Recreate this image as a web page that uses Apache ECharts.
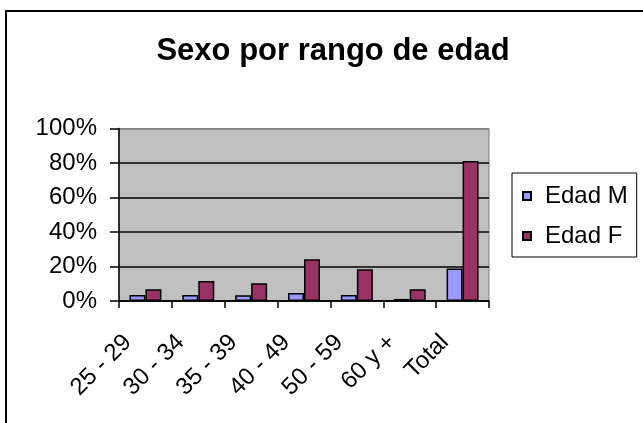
<!DOCTYPE html>
<html>
<head>
<meta charset="utf-8">
<script src="https://cdn.jsdelivr.net/npm/echarts@6/dist/echarts.min.js"></script>
<style>
html,body{margin:0;padding:0;background:#fff;}
#chart{width:643px;height:423px;}
</style>
</head>
<body>
<div id="chart"></div>
<script>
var categories = ['25 - 29', '30 - 34', '35 - 39', '40 - 49', '50 - 59', '60 y +', 'Total'];
var edadM = [3.5, 3.5, 3.4, 4.6, 3.5, 1.2, 18.8];
var edadF = [6.8, 11.6, 10.3, 24.2, 18.4, 6.8, 81.2];
var seriesNames = ['Edad M', 'Edad F'];
var titleText = 'Sexo por rango de edad';

var FONT = "'Liberation Sans', Arial, sans-serif";
var chart = echarts.init(document.getElementById('chart'), null, {renderer: 'canvas'});
chart.setOption({
  animation: false,
  backgroundColor: '#ffffff',
  title: {
    text: titleText,
    left: 328,
    textAlign: 'center',
    top: 31,
    textStyle: {fontFamily: FONT, fontSize: 31, fontWeight: 'bold', color: '#000'}
  },
  graphic: [{
    type: 'rect',
    shape: {x: 6, y: 11, width: 700, height: 500},
    style: {fill: 'none', stroke: '#000', lineWidth: 2},
    silent: true
  }],
  legend: {
    orient: 'vertical',
    left: 512,
    top: 173,
    padding: [11, 9, 9, 10],
    itemGap: 16,
    itemWidth: 8,
    itemHeight: 8,
    icon: 'rect',
    borderColor: '#000',
    borderWidth: 1,
    backgroundColor: '#fff',
    textStyle: {fontFamily: FONT, fontSize: 24, color: '#000', padding: [0, 0, 0, 9]},
    data: seriesNames
  },
  grid: {
    left: 119, right: 154, top: 128.5, bottom: 122,
    show: true,
    backgroundColor: '#C0C0C0',
    borderColor: '#808080',
    borderWidth: 1,
    containLabel: false
  },
  xAxis: {
    type: 'category',
    data: categories,
    boundaryGap: true,
    axisLine: {show: true, lineStyle: {color: '#000', width: 1.5}},
    axisTick: {show: true, length: 7, lineStyle: {color: '#000', width: 1.5}},
    axisLabel: {rotate: 45, margin: 20, fontFamily: FONT, fontSize: 24, color: '#000', interval: 0, padding: [0, 25, 0, 0]}
  },
  yAxis: {
    type: 'value',
    min: 0, max: 100, interval: 20,
    axisLine: {show: true, lineStyle: {color: '#000', width: 1.5}},
    axisTick: {show: true, length: 9, lineStyle: {color: '#000', width: 1.5}},
    axisLabel: {formatter: '{value}%', margin: 22, fontFamily: FONT, fontSize: 24, color: '#000'},
    splitLine: {show: true, lineStyle: {color: ['#000', '#000', '#000', '#000', '#000', '#808080'], width: 1.5}}
  },
  series: [{
    name: seriesNames[0],
    type: 'bar',
    data: edadM,
    barWidth: 16,
    barGap: '0%',
    itemStyle: {color: '#9999FF', borderColor: '#000', borderWidth: 1.5}
  }, {
    name: seriesNames[1],
    type: 'bar',
    data: edadF,
    barWidth: 16,
    barGap: '0%',
    itemStyle: {color: '#993366', borderColor: '#000', borderWidth: 1.5}
  }]
});
</script>
</body>
</html>
